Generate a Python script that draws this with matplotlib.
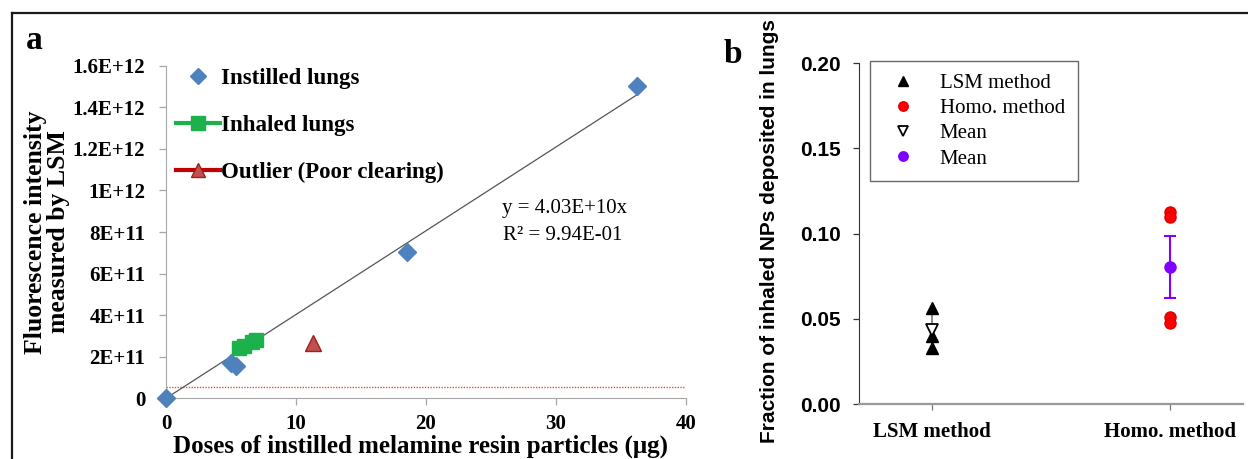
import matplotlib
matplotlib.use("Agg")
import matplotlib.pyplot as plt
import numpy as np
from matplotlib.lines import Line2D

# panel a data
instilled_dose = [0.0, 5.0, 5.4, 18.5, 36.2]
instilled_fluo = [0.0, 1.68e11, 1.57e11, 7.05e11, 1.50e12]
inhaled_dose = [5.6, 6.0, 6.6, 6.9]
inhaled_fluo = [2.40e11, 2.50e11, 2.70e11, 2.80e11]
outlier_dose = [11.3]
outlier_fluo = [2.64e11]
slope = 4.03e10
background = 5.3e10
a_yticks = [0, 2e11, 4e11, 6e11, 8e11, 1e12, 1.2e12, 1.4e12, 1.6e12]
a_yticklabels = ["0", "2E+11", "4E+11", "6E+11", "8E+11", "1E+12", "1.2E+12", "1.4E+12", "1.6E+12"]
a_xticks = [0, 10, 20, 30, 40]

# panel b data
methods = ["LSM method", "Homo. method"]
lsm_vals = [0.0563, 0.0397, 0.0328]
homo_vals = [0.1128, 0.1100, 0.0508, 0.0473]
lsm_mean = 0.0433
lsm_err = 0.0130
homo_mean = 0.0805
homo_err = 0.0180
b_yticks = [0.00, 0.05, 0.10, 0.15, 0.20]

W, H = 1248, 459
serif = "Liberation Serif"
sans = "Liberation Sans"

fig = plt.figure(figsize=(W / 100, H / 100), dpi=100, facecolor="w")

def px(x, y):
    return x / W, 1 - y / H

# frame round the figure
fig.add_artist(Line2D([11.7 / W, 11.7 / W], [0, 1 - 12.7 / H], transform=fig.transFigure, color="#1a1a1a", lw=1.6))
fig.add_artist(Line2D([11.7 / W, 1], [1 - 12.7 / H, 1 - 12.7 / H], transform=fig.transFigure, color="#1a1a1a", lw=1.6))

############## panel a
ax1 = fig.add_axes([166 / W, 1 - 398.3 / H, 520 / W, 332.6 / H])
xfit = np.array([0, max(instilled_dose)])
ax1.plot(xfit, slope * xfit, color="#555555", lw=0.9, zorder=2)
ax1.axhline(background, color="#e05050", lw=1.0, ls=(0, (1, 1)), zorder=1)
ax1.plot(instilled_dose, instilled_fluo, ls="none", marker="D", ms=9.5, color="#4f81bd", zorder=3, label="Instilled lungs", clip_on=False)
ax1.plot(inhaled_dose, inhaled_fluo, ls="-", lw=2.5, marker="s", ms=10.5, color="#1db14b", zorder=3, label="Inhaled lungs")
ax1.plot(outlier_dose, outlier_fluo, ls="none", marker="^", ms=11, mfc="#c0504d", mec="#a02020", zorder=3, label="_nolegend_")

ax1.set_xlim(0, 40)
ax1.set_ylim(0, 1.6e12)
ax1.set_xticks(a_xticks)
ax1.set_xticklabels([str(t) for t in a_xticks], fontfamily=serif, fontweight="bold", fontsize=15)
ax1.set_yticks(a_yticks)
ax1.set_yticklabels(a_yticklabels, fontfamily=serif, fontweight="bold", fontsize=15)
for s in ["top", "right"]:
    ax1.spines[s].set_visible(False)
for s in ["left", "bottom"]:
    ax1.spines[s].set_color("#a6a6a6")
ax1.tick_params(axis="both", colors="#a6a6a6", length=5, width=0.9, pad=10, labelcolor="black")
ax1.tick_params(axis="x", pad=6)

ax1.set_xlabel("Doses of instilled melamine resin particles (\u03bcg)", fontfamily=serif, fontweight="bold", fontsize=18)
ax1.xaxis.set_label_coords(0.49, -0.108)
ax1.set_ylabel("Fluorescence intensity\nmeasured by LSM", fontfamily=serif, fontweight="bold", fontsize=18.5,
               va="center", linespacing=1.0)
ax1.yaxis.set_label_coords(-0.228, 0.5)

handles = [
    Line2D([], [], ls="none", marker="D", ms=8.5, color="#4f81bd"),
    Line2D([], [], ls="-", lw=3, marker="s", ms=10, color="#1db14b"),
    Line2D([], [], ls="-", lw=3, marker="^", ms=10, mfc="#c0504d", mec="#a02020", color="#c00000"),
]
ax1.legend(handles, ["Instilled lungs", "Inhaled lungs", "Outlier (Poor clearing)"],
           loc="upper left", bbox_to_anchor=px(176, 68), bbox_transform=fig.transFigure,
           frameon=False, borderpad=0, borderaxespad=0, handlelength=1.9, handletextpad=0.05,
           labelspacing=1.12, prop={"family": serif, "weight": "bold", "size": 16.5})

fig.text(*px(502, 213), "y = 4.03E+10x", fontfamily=serif, fontsize=15, ha="left", va="baseline")
fig.text(*px(503, 240), "R\u00b2 = 9.94E-01", fontfamily=serif, fontsize=15, ha="left", va="baseline")
fig.text(*px(26, 49), "a", fontfamily=serif, fontweight="bold", fontsize=24, ha="left", va="baseline")

############## panel b
ax2 = fig.add_axes([859 / W, 1 - 404 / H, 384 / W, 340.7 / H])
ax2.errorbar([1], [lsm_mean], yerr=[lsm_err], fmt="none", ecolor="#777777", elinewidth=1.2, capsize=0, zorder=2)
ax2.errorbar([2], [homo_mean], yerr=[homo_err], fmt="none", ecolor="#8000ff", elinewidth=1.5, capsize=4, capthick=1.5, zorder=2)
ax2.plot([1] * len(lsm_vals), lsm_vals, ls="none", marker="^", ms=8, color="black", zorder=3, label="LSM method")
ax2.plot([2] * len(homo_vals), homo_vals, ls="none", marker="o", ms=8, color="#ff0000", mec="#dd0000", zorder=3, label="Homo. method")
ax2.plot([1], [lsm_mean], ls="none", marker="v", ms=8, mfc="white", mec="black", mew=1.3, zorder=4, label="Mean")
ax2.plot([2], [homo_mean], ls="none", marker="o", ms=8, color="#8000ff", zorder=4, label="Mean")

ax2.set_xlim(0.693, 2.307)
ax2.set_ylim(0, 0.2)
ax2.set_xticks([1, 2])
ax2.set_xticklabels(methods, fontfamily=serif, fontweight="bold", fontsize=15)
ax2.set_yticks(b_yticks)
ax2.set_yticklabels(["%.2f" % v for v in b_yticks], fontfamily=sans, fontweight="bold", fontsize=15)
for s in ["top", "right"]:
    ax2.spines[s].set_visible(False)
ax2.spines["left"].set_color("#333333")
ax2.spines["bottom"].set_color("#999999")
ax2.spines["bottom"].set_linewidth(1.6)
ax2.tick_params(axis="y", colors="#333333", length=4, width=0.9, pad=9, labelcolor="black")
ax2.tick_params(axis="x", colors="#777777", length=4, width=0.9, pad=9, labelcolor="black")

ax2.set_ylabel("Fraction of inhaled NPs deposited in lungs", fontfamily=sans, fontweight="bold", fontsize=15, va="center")
ax2.yaxis.set_label_coords(-0.232, 0.509)

leg = ax2.legend(loc="upper left", bbox_to_anchor=px(870, 61), bbox_transform=fig.transFigure,
                 frameon=True, fancybox=False, borderpad=0.6, borderaxespad=0, handlelength=2.0,
                 handletextpad=0.75, labelspacing=0.27, markerscale=0.85,
                 prop={"family": serif, "size": 15})
leg.get_frame().set_edgecolor("#444444")
leg.get_frame().set_linewidth(1.0)

fig.text(*px(724, 63), "b", fontfamily=serif, fontweight="bold", fontsize=24, ha="left", va="baseline")

plt.savefig("out.png", dpi=100, facecolor="w")
